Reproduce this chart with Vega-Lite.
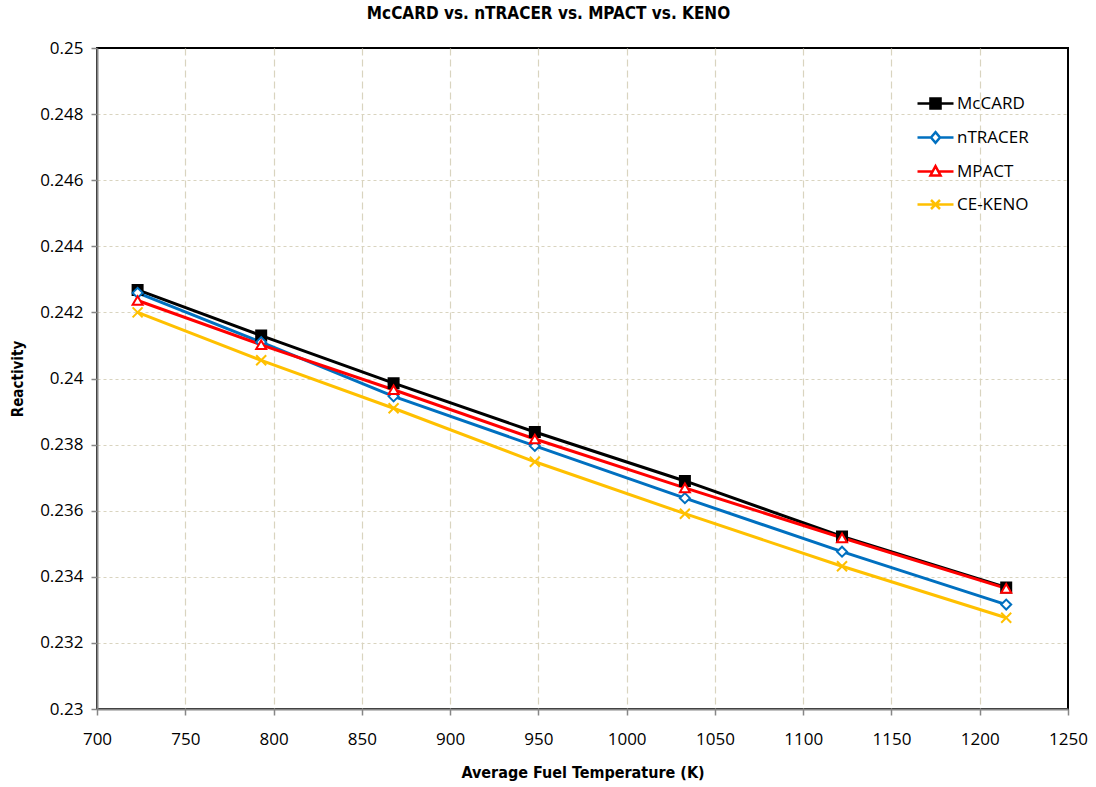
{
  "$schema": "https://vega.github.io/schema/vega-lite/v6.json",
  "width": 971,
  "height": 661,
  "autosize": {"type": "none"},
  "padding": {"left": 97, "top": 48, "right": 28, "bottom": 78},
  "background": "white",
  "title": {
    "text": "McCARD vs. nTRACER vs. MPACT vs. KENO",
    "font": "DejaVu Sans Condensed, Open Sans, sans-serif",
    "fontSize": 17,
    "fontWeight": "bold",
    "color": "#000000",
    "anchor": "middle",
    "dx": -34,
    "offset": 16
  },
  "config": {
    "font": "Open Sans",
    "view": {"stroke": "#000000", "strokeWidth": 2}
  },
  "data": {
    "values": [
      {"series": "McCARD", "T": 723, "rho": 0.24268},
      {"series": "McCARD", "T": 793, "rho": 0.24130},
      {"series": "McCARD", "T": 868, "rho": 0.23986},
      {"series": "McCARD", "T": 948, "rho": 0.23838},
      {"series": "McCARD", "T": 1033, "rho": 0.23690},
      {"series": "McCARD", "T": 1122, "rho": 0.23522},
      {"series": "McCARD", "T": 1215, "rho": 0.23368},
      {"series": "nTRACER", "T": 723, "rho": 0.24259},
      {"series": "nTRACER", "T": 793, "rho": 0.24110},
      {"series": "nTRACER", "T": 868, "rho": 0.23946},
      {"series": "nTRACER", "T": 948, "rho": 0.23796},
      {"series": "nTRACER", "T": 1033, "rho": 0.23638},
      {"series": "nTRACER", "T": 1122, "rho": 0.23476},
      {"series": "nTRACER", "T": 1215, "rho": 0.23316},
      {"series": "MPACT", "T": 723, "rho": 0.24236},
      {"series": "MPACT", "T": 793, "rho": 0.24102},
      {"series": "MPACT", "T": 868, "rho": 0.23966},
      {"series": "MPACT", "T": 948, "rho": 0.23817},
      {"series": "MPACT", "T": 1033, "rho": 0.23669},
      {"series": "MPACT", "T": 1122, "rho": 0.23518},
      {"series": "MPACT", "T": 1215, "rho": 0.23365},
      {"series": "CE-KENO", "T": 723, "rho": 0.24200},
      {"series": "CE-KENO", "T": 793, "rho": 0.24055},
      {"series": "CE-KENO", "T": 868, "rho": 0.23910},
      {"series": "CE-KENO", "T": 948, "rho": 0.23748},
      {"series": "CE-KENO", "T": 1033, "rho": 0.23591},
      {"series": "CE-KENO", "T": 1122, "rho": 0.23432},
      {"series": "CE-KENO", "T": 1215, "rho": 0.23276}
    ]
  },
  "encoding": {
    "x": {
      "field": "T",
      "type": "quantitative",
      "scale": {"domain": [700, 1250], "nice": false, "zero": false},
      "axis": {
        "title": "Average Fuel Temperature (K)",
        "values": [700, 750, 800, 850, 900, 950, 1000, 1050, 1100, 1150, 1200, 1250],
        "format": "d",
        "labelFont": "Open Sans",
        "labelFontSize": 17,
        "labelColor": "#000000",
        "labelPadding": 16,
        "labelFlush": false,
        "tickSize": 6,
        "tickColor": "#868686",
        "tickWidth": 1.5,
        "domainColor": "#868686",
        "domainWidth": 2,
        "grid": true,
        "gridColor": "#d9d4bf",
        "gridDash": [7, 4],
        "gridWidth": 1.2,
        "gridOpacity": {"condition": {"test": "datum.value >= 1250 || datum.value <= 700", "value": 0}, "value": 1},
        "titleFont": "DejaVu Sans Condensed, Open Sans, sans-serif",
        "titleFontSize": 16,
        "titleFontWeight": "bold",
        "titleColor": "#000000",
        "titlePadding": 17
      }
    },
    "y": {
      "field": "rho",
      "type": "quantitative",
      "scale": {"domain": [0.23, 0.25], "nice": false, "zero": false},
      "axis": {
        "title": "Reactivity",
        "values": [0.23, 0.232, 0.234, 0.236, 0.238, 0.24, 0.242, 0.244, 0.246, 0.248, 0.25],
        "format": ".3~f",
        "labelFont": "Open Sans",
        "labelFontSize": 17,
        "labelColor": "#000000",
        "labelPadding": 8,
        "labelFlush": false,
        "tickSize": 6,
        "tickColor": "#868686",
        "tickWidth": 1.5,
        "domainColor": "#868686",
        "domainWidth": 2,
        "grid": true,
        "gridColor": "#d9d4bf",
        "gridDash": [3, 3],
        "gridWidth": 1.2,
        "gridOpacity": {"condition": {"test": "datum.value >= 0.2499 || datum.value <= 0.2301", "value": 0}, "value": 1},
        "titleFont": "DejaVu Sans Condensed, Open Sans, sans-serif",
        "titleFontSize": 15,
        "titleFontWeight": "bold",
        "titleColor": "#000000",
        "titlePadding": 14
      }
    }
  },
  "layer": [
    {
      "mark": {"type": "line", "strokeWidth": 3},
      "encoding": {
        "color": {
          "field": "series",
          "type": "nominal",
          "sort": ["McCARD", "nTRACER", "MPACT", "CE-KENO"],
          "scale": {
            "domain": ["McCARD", "nTRACER", "MPACT", "CE-KENO"],
            "range": ["#000000", "#0070c0", "#ff0000", "#ffc000"]
          },
          "legend": {
            "title": null,
            "orient": "none",
            "legendX": 819,
            "legendY": 36,
            "labelFont": "Open Sans",
            "labelFontSize": 17,
            "labelColor": "#000000",
            "symbolSize": 1296,
            "symbolStrokeWidth": 2.5,
            "labelOffset": 2,
            "rowPadding": 4,
            "encode": {
              "symbols": {
                "update": {
                  "shape": {"signal": "datum.value === 'McCARD' ? 'M-1,0H1M-0.28,-0.28H0.28V0.28H-0.28Z' : datum.value === 'nTRACER' ? 'M-1,0H-0.25M0.25,0H1M0,-0.3L0.25,0L0,0.3L-0.25,0Z' : datum.value === 'MPACT' ? 'M-1,0H-0.16M0.16,0H1M0,-0.3L0.28,0.22L-0.28,0.22Z' : 'M-1,0H1M-0.25,-0.25L0.25,0.25M-0.25,0.25L0.25,-0.25'"},
                  "fill": {"signal": "datum.value === 'McCARD' ? '#000000' : '#ffffff'"},
                  "fillOpacity": {"value": 1},
                  "opacity": {"value": 1}
                }
              }
            }
          }
        }
      }
    },
    {
      "transform": [{"filter": "datum.series === 'McCARD'"}],
      "mark": {"type": "point", "shape": "square", "filled": true, "size": 100, "strokeWidth": 2, "opacity": 1, "fill": "#000000", "stroke": "#000000"}
    },
    {
      "transform": [{"filter": "datum.series === 'nTRACER'"}],
      "mark": {"type": "point", "shape": "diamond", "filled": true, "size": 100, "strokeWidth": 2, "opacity": 1, "fill": "#ffffff", "stroke": "#0070c0"}
    },
    {
      "transform": [{"filter": "datum.series === 'MPACT'"}],
      "mark": {"type": "point", "shape": "triangle-up", "filled": true, "size": 100, "strokeWidth": 2, "opacity": 1, "fill": "#ffffff", "stroke": "#ff0000"}
    },
    {
      "transform": [{"filter": "datum.series === 'CE-KENO'"}],
      "mark": {"type": "point", "shape": "M-1,-1L1,1M-1,1L1,-1", "filled": false, "size": 100, "strokeWidth": 2, "opacity": 1, "stroke": "#ffc000"}
    }
  ]
}
